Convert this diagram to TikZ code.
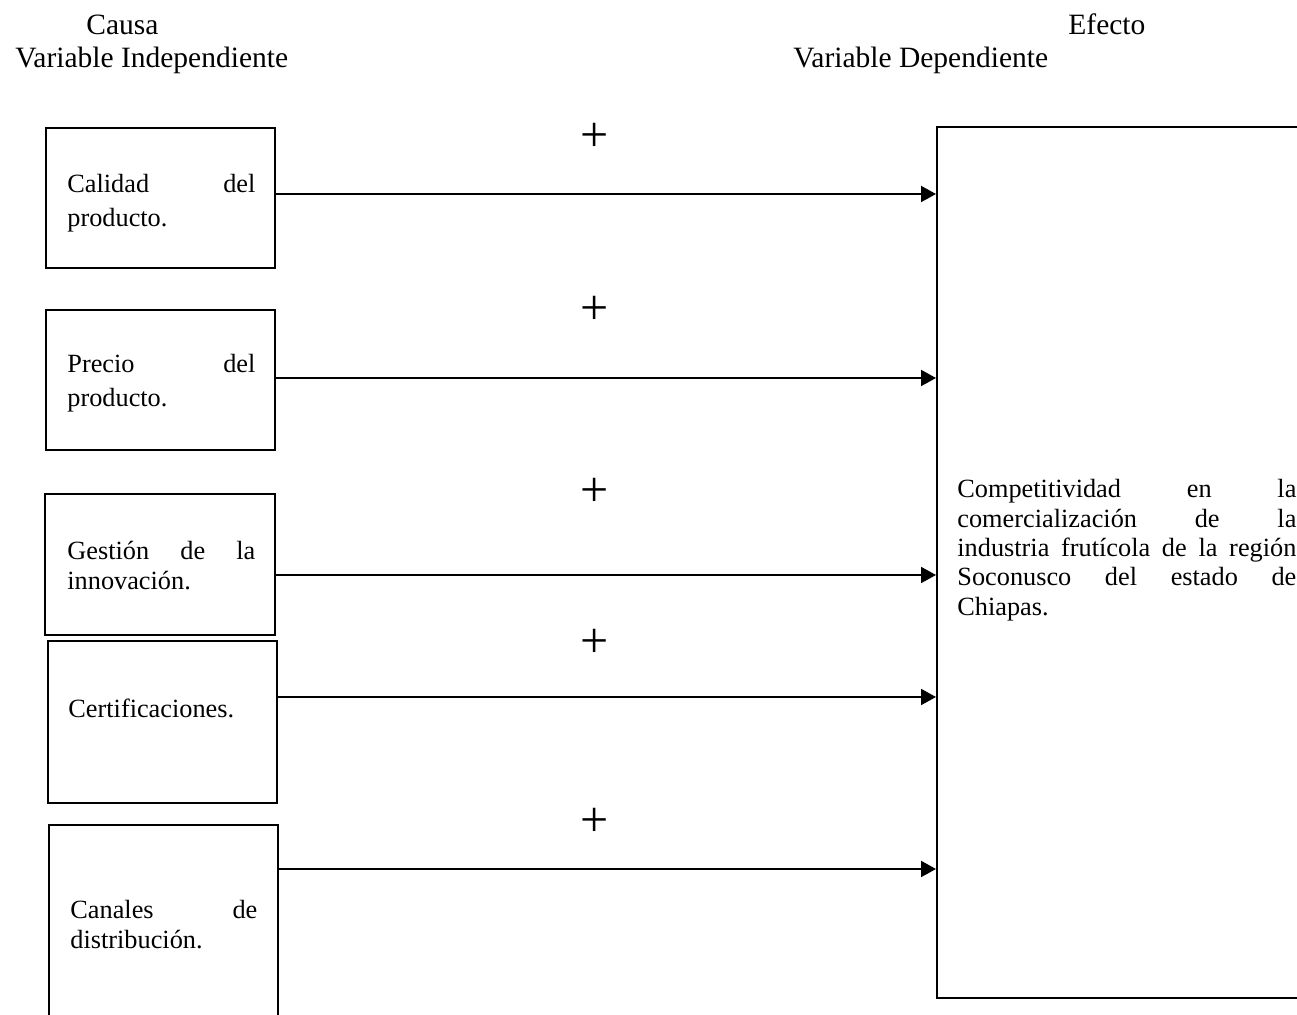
\documentclass[tikz,border=0pt]{standalone}
\usepackage{fontspec}
\setmainfont{Liberation Serif}
\usetikzlibrary{arrows.meta}
\tikzset{
  box/.style={draw, line width=1pt, rectangle, inner sep=0pt},
  boxtext/.style={anchor=base west, inner sep=0pt, text width=94pt, align=left, font=\fontsize{13.15pt}{17pt}\selectfont},
  boxtextb/.style={boxtext, font=\fontsize{13.15pt}{14.65pt}\selectfont},
  head/.style={anchor=base west, inner sep=0pt, font=\fontsize{14.75pt}{16pt}\selectfont},
  arr/.style={line width=1pt, -{Triangle[length=7.5pt,width=8pt]}, shorten >=0pt},
  plus/.style={inner sep=0pt, font=\fontsize{25pt}{25pt}\selectfont}
}
\begin{document}
\begin{tikzpicture}[x=0.5pt,y=-0.5pt]
\useasboundingbox (0,0) rectangle (1297,1015);
% headings
\node[head] (causa) at (86,35) {Causa};
\node[head] (vi) at (15,68) {Variable Independiente};
\node[head] (efecto) at (1068,35) {Efecto};
\node[head] (vd) at (793,68) {Variable Dependiente};
% left boxes
\node[box, minimum width=114.5pt, minimum height=70pt] (b1) at (160.5,198) {};
\node[box, minimum width=114.5pt, minimum height=70pt] (b2) at (160.5,380) {};
\node[box, minimum width=115pt, minimum height=70.5pt] (b3) at (160,564.5) {};
\node[box, minimum width=114.5pt, minimum height=81pt] (b4) at (162.5,722) {};
\node[box, minimum width=114.5pt, minimum height=102.5pt] (b5) at (163.5,927.5) {};
% texts
\node[boxtext] (t1) at (67,193) {Calidad\hfill del\\producto.};
\node[boxtext] (t2) at (67,373) {Precio\hfill del\\producto.};
\node[boxtextb] (t3) at (67,560) {Gesti\'on\hfill de\hfill la\\innovaci\'on.};
\node[boxtextb] (t4) at (68,718) {Certificaciones.};
\node[boxtextb, text width=93.5pt] (t5) at (70,919) {Canales\hfill de\\distribuci\'on.};
% right box
\node[box, minimum width=186.5pt, minimum height=435.5pt] (R) at (1123.5,562.5) {};
\node[boxtextb, text width=169.5pt] (tr) at (957,498) {Competitividad\hfill en\hfill la\\comercializaci\'on\hfill de\hfill la\\industria\hfill frut\'icola\hfill de\hfill la\hfill regi\'on\\Soconusco\hfill del\hfill estado\hfill de\\Chiapas.};
% arrow end points on the right box
\coordinate (e1) at (R.west |- 0,194);
\coordinate (e2) at (R.west |- 0,378);
\coordinate (e3) at (R.west |- 0,575);
\coordinate (e4) at (R.west |- 0,697);
\coordinate (e5) at (R.west |- 0,869);
\draw[arr] (b1.east |- e1) -- (e1);
\draw[arr] (b2.east |- e2) -- (e2);
\draw[arr] (b3.east |- e3) -- (e3);
\draw[arr] (b4.east |- e4) -- (e4);
\draw[arr] (b5.east |- e5) -- (e5);
% plus signs
\node[plus] (p1) at (595,137) {+};
\node[plus] (p2) at (595,310) {+};
\node[plus] (p3) at (595,492) {+};
\node[plus] (p4) at (595,643) {+};
\node[plus] (p5) at (595,822) {+};
\end{tikzpicture}
\end{document}
